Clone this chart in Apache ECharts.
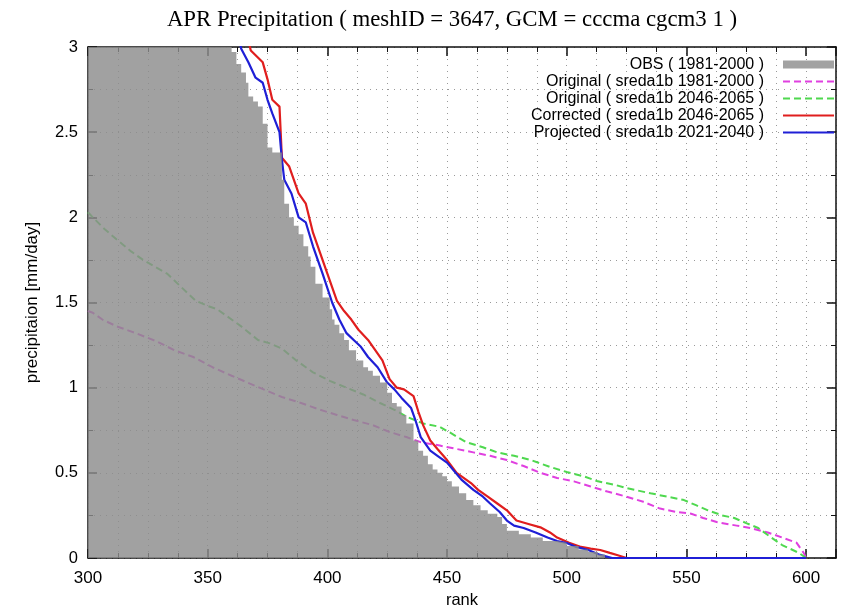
<!DOCTYPE html>
<html><head><meta charset="utf-8">
<script src="https://cdn.jsdelivr.net/npm/echarts@6/dist/echarts.min.js"></script>
<style>html,body{margin:0;padding:0;background:#fff}#c{width:845px;height:608px}</style>
</head><body><div id="c"></div>
<script>
var titleText = "APR Precipitation ( meshID = 3647, GCM = cccma cgcm3 1 )";
var seriesNames = ["OBS ( 1981-2000 )", "Original ( sreda1b 1981-2000 )", "Original ( sreda1b 2046-2065 )", "Corrected ( sreda1b 2046-2065 )", "Projected ( sreda1b 2021-2040 )"];
var xTicks = [300, 350, 400, 450, 500, 550, 600];
var yTicks = [0, 0.5, 1, 1.5, 2, 2.5, 3];

// OBS sorted values: [rank, precipitation] at each step change
var obs = [[300,5.0],[340,3.6],[355,3.2],[360,2.97],[362,2.90],[364,2.85],[366,2.79],[367,2.71],[369,2.68],[371,2.65],[373,2.55],[375,2.41],[377,2.38],[381,2.22],[382,2.08],[384,2.0],[386,1.95],[388,1.90],[390,1.83],[392,1.77],[393,1.71],[395,1.61],[398,1.53],[401,1.46],[402,1.40],[403,1.37],[405,1.32],[407,1.28],[409,1.22],[412,1.16],[415,1.12],[417,1.10],[419,1.07],[422,1.03],[425,0.97],[427,0.91],[429,0.89],[431,0.84],[433,0.79],[436,0.69],[438,0.63],[440,0.60],[442,0.55],[444,0.52],[446,0.50],[448,0.48],[450,0.45],[452,0.42],[455,0.38],[458,0.34],[461,0.31],[464,0.28],[467,0.26],[471,0.24],[473,0.20],[475,0.16],[480,0.14],[485,0.12],[490,0.10],[496,0.09],[500,0.07],[505,0.05],[509,0.035],[513,0.02],[516,0.0],[600,0.0]];

var orig1981 = [[300,1.45],[302,1.44],[306,1.40],[312,1.36],[320,1.32],[329,1.27],[336,1.22],[344,1.18],[352,1.12],[360,1.07],[370,1.01],[381,0.945],[389,0.91],[397,0.87],[404,0.84],[411,0.81],[419,0.78],[426,0.74],[433,0.71],[439,0.68],[447,0.66],[454,0.64],[461,0.62],[468,0.60],[475,0.575],[482,0.54],[489,0.50],[496,0.47],[503,0.45],[510,0.42],[517,0.39],[525,0.36],[532,0.33],[539,0.29],[546,0.27],[552,0.26],[557,0.235],[563,0.21],[571,0.19],[577,0.175],[584,0.15],[590,0.12],[596,0.09],[599,0.03],[600,0.0]];

var orig2046 = [[300,2.03],[302,2.0],[307,1.93],[312,1.87],[318,1.80],[323,1.75],[328,1.71],[333,1.67],[339,1.59],[345,1.51],[350,1.48],[354,1.46],[364,1.36],[371,1.28],[376,1.26],[381,1.23],[387,1.16],[394,1.09],[401,1.04],[408,1.00],[415,0.96],[422,0.91],[428,0.87],[433,0.83],[440,0.79],[447,0.77],[452,0.73],[458,0.68],[465,0.65],[471,0.62],[478,0.60],[485,0.575],[493,0.535],[500,0.505],[507,0.48],[513,0.45],[520,0.43],[525,0.41],[535,0.38],[542,0.36],[549,0.34],[554,0.31],[559,0.28],[565,0.25],[570,0.235],[575,0.205],[580,0.176],[584,0.135],[590,0.076],[597,0.03],[600,0.0]];

var corr2046 = [[366,3.1],[368,2.98],[373,2.91],[375,2.81],[377,2.69],[380,2.65],[381,2.35],[384,2.30],[388,2.14],[391,2.08],[394,1.91],[397,1.79],[400,1.67],[404,1.51],[407,1.45],[410,1.40],[413,1.34],[417,1.28],[420,1.22],[423,1.16],[426,1.05],[429,1.00],[432,0.99],[436,0.95],[438,0.86],[440,0.78],[443,0.69],[446,0.64],[450,0.575],[454,0.50],[460,0.44],[463,0.40],[467,0.36],[471,0.32],[475,0.28],[479,0.22],[484,0.20],[489,0.18],[493,0.15],[496,0.12],[501,0.09],[506,0.065],[510,0.055],[514,0.047],[518,0.03],[521,0.018],[525,0.0],[600,0.0]];

var proj2021 = [[363,3.06],[364,2.99],[367,2.91],[370,2.82],[373,2.79],[375,2.69],[377,2.61],[380,2.50],[381,2.34],[382,2.22],[385,2.14],[388,2.00],[391,1.97],[394,1.83],[398,1.67],[402,1.50],[405,1.40],[408,1.32],[411,1.28],[414,1.24],[417,1.18],[421,1.12],[425,1.03],[428,0.99],[431,0.94],[435,0.88],[437,0.80],[439,0.71],[443,0.63],[446,0.60],[450,0.56],[453,0.51],[456,0.46],[461,0.40],[465,0.36],[468,0.32],[472,0.27],[475,0.22],[478,0.19],[482,0.176],[487,0.15],[492,0.12],[496,0.10],[500,0.088],[504,0.065],[509,0.047],[514,0.018],[519,0.0],[600,0.0]];

var chart = echarts.init(document.getElementById('c'), null, {renderer: 'canvas'});
var FONT = 'Liberation Sans';
var gridLine = {show: true, lineStyle: {color: '#9a9a9a', width: 1, type: [1, 5]}};
function baseX(pos, labels) {
  return {
    type: 'value', position: pos, min: xTicks[0], max: 612.5, interval: xTicks[1] - xTicks[0],
    axisLine: {show: true, onZero: false, lineStyle: {color: '#111', width: 1.5}},
    axisTick: {show: true, inside: true, length: 9, lineStyle: {color: '#111', width: 1.5}},
    minorTick: {show: true, splitNumber: 4, length: 5, lineStyle: {color: '#111', width: 1}},
    axisLabel: {show: labels, color: '#000', fontFamily: FONT, fontSize: 17, margin: 12},
    splitLine: labels ? gridLine : {show: false},
    minorSplitLine: labels ? gridLine : {show: false}
  };
}
function baseY(pos, labels) {
  return {
    type: 'value', position: pos, min: yTicks[0], max: yTicks[yTicks.length - 1], interval: yTicks[1] - yTicks[0],
    axisLine: {show: true, onZero: false, lineStyle: {color: '#111', width: 1.5}},
    axisTick: {show: true, inside: true, length: 9, lineStyle: {color: '#111', width: 1.5}},
    minorTick: {show: true, splitNumber: 2, length: 5, lineStyle: {color: '#111', width: 1}},
    axisLabel: {show: labels, color: '#000', fontFamily: FONT, fontSize: 16.5, margin: 10},
    splitLine: labels ? gridLine : {show: false},
    minorSplitLine: labels ? gridLine : {show: false}
  };
}
var xa0 = baseX('bottom', true);
xa0.name = 'rank'; xa0.nameLocation = 'middle'; xa0.nameGap = 32;
xa0.nameTextStyle = {color: '#000', fontFamily: FONT, fontSize: 16.5};
var ya0 = baseY('left', true);
ya0.name = 'precipitaion [mm/day]'; ya0.nameLocation = 'middle'; ya0.nameGap = 47;
ya0.nameTextStyle = {color: '#000', fontFamily: FONT, fontSize: 17};

function lineSeries(name, data, color, width, dashed) {
  return {
    name: name, type: 'line', data: data, xAxisIndex: 0, yAxisIndex: 0,
    symbol: 'none', clip: true, z: 3,
    itemStyle: {color: color},
    lineStyle: {color: color, width: width, type: dashed ? [7, 4] : 'solid'},
    emphasis: {disabled: true}
  };
}

chart.setOption({
  animation: false,
  backgroundColor: '#fff',
  title: {text: titleText, left: 447, textAlign: 'center', top: 4,
    textStyle: {fontFamily: 'Liberation Serif', fontSize: 22.8, fontWeight: 'normal', color: '#000'}},
  grid: {left: 88, right: 9, top: 47, bottom: 50, containLabel: false, outerBoundsMode: 'none'},
  legend: {
    orient: 'vertical', right: 10, top: 56, align: 'right', itemGap: 0, padding: 0,
    itemWidth: 51, itemHeight: 8,
    textStyle: {fontFamily: FONT, fontSize: 16, color: '#000', lineHeight: 17, padding: [0, 14, 0, 0]},
    data: [
      {name: seriesNames[0], icon: 'rect'},
      {name: seriesNames[1], itemStyle: {opacity: 0}},
      {name: seriesNames[2], itemStyle: {opacity: 0}},
      {name: seriesNames[3], itemStyle: {opacity: 0}},
      {name: seriesNames[4], itemStyle: {opacity: 0}}
    ]
  },
  xAxis: [xa0, baseX('top', false)],
  yAxis: [ya0, baseY('right', false)],
  series: [
    {
      name: seriesNames[0], type: 'line', step: 'end', data: obs, symbol: 'none', clip: true, z: 5,
      itemStyle: {color: '#a2a2a2'},
      lineStyle: {width: 0, color: '#8c8c8c'},
      areaStyle: {color: '#8c8c8c', opacity: 0.82, origin: 'start'},
      emphasis: {disabled: true}
    },
    lineSeries(seriesNames[1], orig1981, '#e040e0', 2, true),
    lineSeries(seriesNames[2], orig2046, '#4fd84f', 2, true),
    lineSeries(seriesNames[3], corr2046, '#e01e1e', 2.2, false),
    lineSeries(seriesNames[4], proj2021, '#1f1fd6', 2.2, false)
  ]
});
</script></body></html>
